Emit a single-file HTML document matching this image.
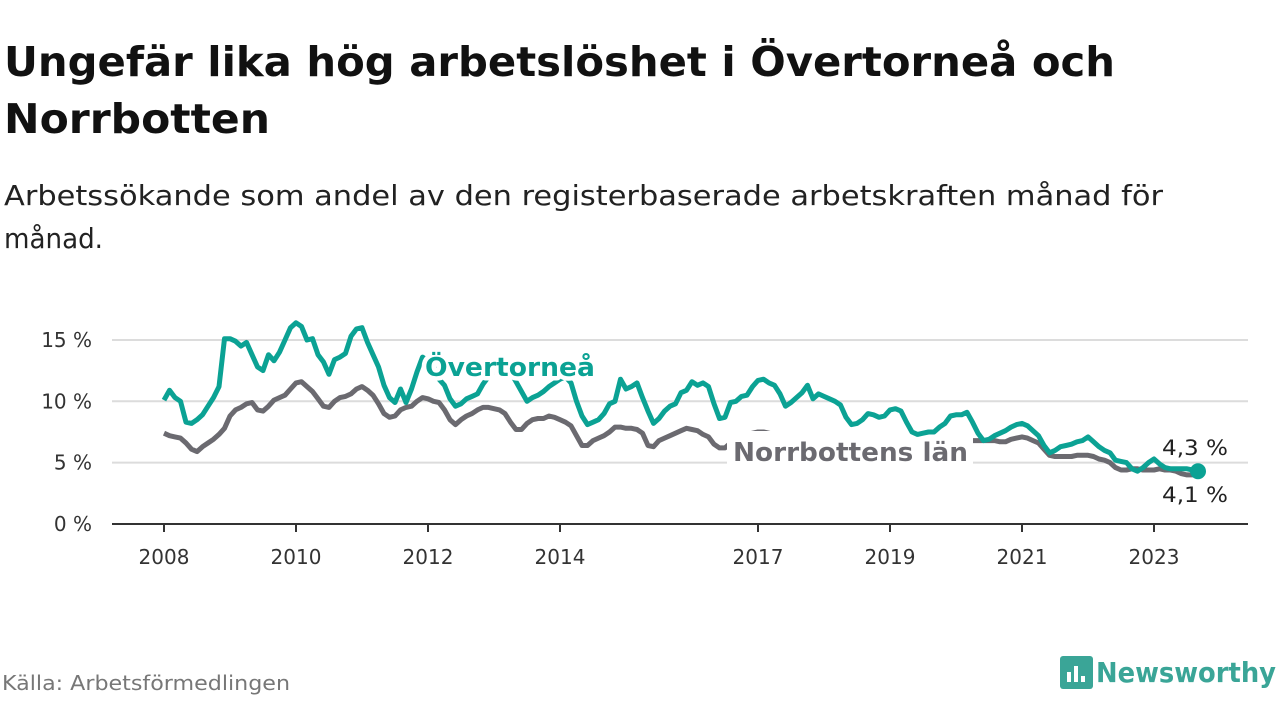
<!DOCTYPE html>
<html><head><meta charset="utf-8"><style>
body{margin:0;background:#fff;width:1280px;height:720px;overflow:hidden;font-family:"DejaVu Sans","Liberation Sans",sans-serif}
svg text{font-family:"DejaVu Sans","Liberation Sans",sans-serif}
</style></head><body>
<svg id="chart" width="1280" height="720" viewBox="0 0 1280 720" xmlns="http://www.w3.org/2000/svg">
<text x="4" y="76" font-size="41" font-weight="bold" fill="#111" textLength="1111" lengthAdjust="spacingAndGlyphs">Ungefär lika hög arbetslöshet i Övertorneå och</text>
<text x="4" y="133" font-size="41" font-weight="bold" fill="#111" textLength="266" lengthAdjust="spacingAndGlyphs">Norrbotten</text>
<text x="4" y="205" font-size="28" fill="#222" textLength="1159" lengthAdjust="spacingAndGlyphs">Arbetssökande som andel av den registerbaserade arbetskraften månad för</text>
<text x="4" y="248" font-size="28" fill="#222" textLength="99" lengthAdjust="spacingAndGlyphs">månad.</text>
<g id="grid"></g>
<g id="series"></g>
<g id="labels"></g>
<text x="2" y="690" font-size="20" fill="#777" textLength="288" lengthAdjust="spacingAndGlyphs">Källa: Arbetsförmedlingen</text>
<g>
<rect x="1060" y="656" width="33" height="33" rx="3" fill="#3aa597"/>
<rect x="1067" y="672" width="4" height="10" fill="#fff"/><rect x="1074" y="666" width="4" height="16" fill="#fff"/><rect x="1081" y="676" width="4" height="6" fill="#fff"/>
<text x="1096" y="682" font-size="28" font-weight="bold" fill="#3aa597" textLength="180" lengthAdjust="spacingAndGlyphs">Newsworthy</text>
</g>
</svg>
<script>
const yTicks=[0,5,10,15];
const yTickLabels=["0 %","5 %","10 %","15 %"];
const xTickYears=[2008,2010,2012,2014,2017,2019,2021,2023];
const startYear=2008;
const overtornea=[10.1,10.9,10.3,10.0,8.3,8.2,8.5,8.9,9.6,10.3,11.2,15.1,15.1,14.9,14.5,14.8,13.8,12.8,12.5,13.8,13.3,14.0,15.0,16.0,16.4,16.1,15.0,15.1,13.8,13.2,12.2,13.4,13.6,13.9,15.3,15.9,16.0,14.8,13.8,12.8,11.3,10.3,9.9,11.0,9.9,11.0,12.4,13.6,13.3,12.8,11.8,11.3,10.2,9.6,9.8,10.2,10.4,10.6,11.4,12.0,12.4,12.6,12.7,12.4,11.6,10.8,10.0,10.3,10.5,10.8,11.2,11.5,11.8,12.0,11.5,10.0,8.8,8.1,8.3,8.5,9.0,9.8,10.0,11.8,11.0,11.2,11.5,10.3,9.2,8.2,8.6,9.2,9.6,9.8,10.7,10.9,11.6,11.3,11.5,11.2,9.8,8.6,8.7,9.9,10.0,10.4,10.5,11.2,11.7,11.8,11.5,11.3,10.6,9.6,9.9,10.3,10.7,11.3,10.2,10.6,10.4,10.2,10.0,9.7,8.7,8.1,8.2,8.5,9.0,8.9,8.7,8.8,9.3,9.4,9.2,8.3,7.5,7.3,7.4,7.5,7.5,7.9,8.2,8.8,8.9,8.9,9.1,8.3,7.4,6.8,6.9,7.2,7.4,7.6,7.9,8.1,8.2,8.0,7.6,7.2,6.4,5.8,6.0,6.3,6.4,6.5,6.7,6.8,7.1,6.7,6.3,6.0,5.8,5.2,5.1,5.0,4.5,4.3,4.6,5.0,5.3,4.9,4.6,4.5,4.5,4.5,4.5,4.4,4.3];
const norrbotten=[7.4,7.2,7.1,7.0,6.6,6.1,5.9,6.3,6.6,6.9,7.3,7.8,8.8,9.3,9.5,9.8,9.9,9.3,9.2,9.6,10.1,10.3,10.5,11.0,11.5,11.6,11.2,10.8,10.2,9.6,9.5,10.0,10.3,10.4,10.6,11.0,11.2,10.9,10.5,9.8,9.0,8.7,8.8,9.3,9.5,9.6,10.0,10.3,10.2,10.0,9.9,9.3,8.5,8.1,8.5,8.8,9.0,9.3,9.5,9.5,9.4,9.3,9.0,8.3,7.7,7.7,8.2,8.5,8.6,8.6,8.8,8.7,8.5,8.3,8.0,7.2,6.4,6.4,6.8,7.0,7.2,7.5,7.9,7.9,7.8,7.8,7.7,7.4,6.4,6.3,6.8,7.0,7.2,7.4,7.6,7.8,7.7,7.6,7.3,7.1,6.5,6.2,6.2,6.6,6.9,7.1,7.3,7.4,7.5,7.5,7.4,7.2,6.9,6.6,6.7,6.9,7.0,7.2,7.1,7.0,6.9,6.8,6.6,6.3,6.0,5.9,6.0,6.3,6.5,6.6,6.6,6.7,6.9,6.9,6.7,6.3,5.9,5.8,5.9,6.1,6.3,6.5,6.6,6.8,6.9,6.8,6.8,6.8,6.8,6.8,6.8,6.8,6.7,6.7,6.9,7.0,7.1,7.0,6.8,6.6,6.1,5.6,5.5,5.5,5.5,5.5,5.6,5.6,5.6,5.5,5.3,5.2,5.0,4.6,4.4,4.4,4.5,4.5,4.4,4.4,4.4,4.5,4.4,4.4,4.3,4.1,4.0,4.0,4.1];
const endLabels=["4,3 %","4,1 %"];

const NS="http://www.w3.org/2000/svg";
const X0=164, PXY=66, Y0=524, PXV=12.27;
function xMonth(i){return X0+i*PXY/12;}
function xYear(yr){return X0+(yr-startYear)*PXY;}
function yVal(v){return Y0-v*PXV;}
function mk(tag,attrs,parent){const e=document.createElementNS(NS,tag);for(const k in attrs)e.setAttribute(k,attrs[k]);parent.appendChild(e);return e;}
const grid=document.getElementById('grid'),series=document.getElementById('series'),labels=document.getElementById('labels');
yTicks.forEach((t,i)=>{
  if(t>0){const l=mk('line',{x1:112,x2:1248,y1:yVal(t),y2:yVal(t),stroke:'#dcdcdc','stroke-width':2},grid);
  
  }
  const tx=mk('text',{x:92,y:yVal(t)+7,'font-size':20,fill:'#333','text-anchor':'end'},grid);
  tx.textContent=yTickLabels[i];
  
  
});
const ax=mk('line',{x1:112,x2:1248,y1:Y0,y2:Y0,stroke:'#333','stroke-width':2},grid);


xTickYears.forEach(yr=>{
  const tk=mk('line',{x1:xYear(yr),x2:xYear(yr),y1:Y0,y2:Y0+8,stroke:'#333','stroke-width':2},grid);
  
  
  const tx=mk('text',{x:xYear(yr),y:564,'font-size':20,fill:'#333','text-anchor':'middle'},grid);
  tx.textContent=yr;
  
  
});
function path(arr){return arr.map((v,i)=>(i?'L':'M')+xMonth(i).toFixed(1)+' '+yVal(v).toFixed(1)).join(' ');}
const pn=mk('path',{d:path(norrbotten),fill:'none',stroke:'#6b6a70','stroke-width':5,'stroke-linejoin':'round'},series);


const bg=mk('rect',{x:727,y:431,width:246,height:36,fill:'#fff'},series);


const po=mk('path',{d:path(overtornea),fill:'none',stroke:'#0ba294','stroke-width':5,'stroke-linejoin':'round'},series);


const last=overtornea.length-1;
const dot=mk('circle',{cx:xMonth(last),cy:yVal(overtornea[last]),r:8,fill:'#0ba294'},series);


function lab(txt,x,y,size,weight,fill,name,len){const a={x:x,y:y,'font-size':size,'font-weight':weight,fill:fill,stroke:'#fff','stroke-width':9,'paint-order':'stroke','stroke-linejoin':'round'};if(len){a.textLength=len;a.lengthAdjust='spacingAndGlyphs';}const t=mk('text',a,labels);t.textContent=txt;
  
  return t;}
lab('Övertorneå',425,376,26,'bold','#0ba294','overtornea-label',170);
lab('Norrbottens län',733,461,26,'bold','#6b6a70','norrbotten-label',235);
lab(endLabels[0],1162,455,21,'normal','#222','end-value-overtornea',66);
lab(endLabels[1],1162,502,21,'normal','#222','end-value-norrbotten',66);
</script>
</body></html>
